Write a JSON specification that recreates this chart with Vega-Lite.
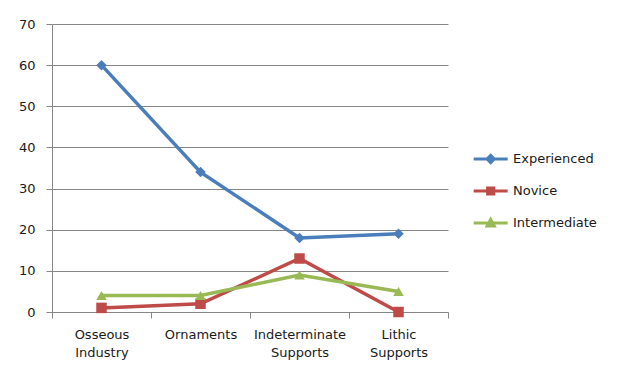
{
  "$schema": "https://vega.github.io/schema/vega-lite/v6.json",
  "width": 396,
  "height": 288,
  "autosize": {"type": "none"},
  "padding": {"left": 52, "top": 24, "right": 172, "bottom": 64},
  "background": "white",
  "config": {"view": {"stroke": null}, "font": "DejaVu Sans"},
  "data": {
    "values": [
      {"category": "Osseous Industry", "series": "Experienced", "value": 60},
      {"category": "Ornaments", "series": "Experienced", "value": 34},
      {"category": "Indeterminate Supports", "series": "Experienced", "value": 18},
      {"category": "Lithic Supports", "series": "Experienced", "value": 19},
      {"category": "Osseous Industry", "series": "Novice", "value": 1},
      {"category": "Ornaments", "series": "Novice", "value": 2},
      {"category": "Indeterminate Supports", "series": "Novice", "value": 13},
      {"category": "Lithic Supports", "series": "Novice", "value": 0},
      {"category": "Osseous Industry", "series": "Intermediate", "value": 4},
      {"category": "Ornaments", "series": "Intermediate", "value": 4},
      {"category": "Indeterminate Supports", "series": "Intermediate", "value": 9},
      {"category": "Lithic Supports", "series": "Intermediate", "value": 5}
    ]
  },
  "encoding": {
    "x": {
      "field": "category",
      "type": "nominal",
      "sort": ["Osseous Industry", "Ornaments", "Indeterminate Supports", "Lithic Supports"],
      "scale": {"type": "band", "paddingInner": 0, "paddingOuter": 0},
      "axis": {
        "title": null,
        "labelAngle": 0,
        "labelExpr": "split(datum.label, ' ')",
        "tickBand": "extent",
        "grid": false,
        "domainColor": "#868686",
        "tickColor": "#868686",
        "tickSize": 6,
        "labelPadding": 10,
        "labelFontSize": 13,
        "labelColor": "#1a1a1a",
        "labelLineHeight": 18
      }
    },
    "y": {
      "field": "value",
      "type": "quantitative",
      "scale": {"domain": [0, 70]},
      "axis": {
        "title": null,
        "values": [0, 10, 20, 30, 40, 50, 60, 70],
        "gridColor": "#868686",
        "gridOpacity": 1,
        "domainColor": "#868686",
        "tickColor": "#868686",
        "tickSize": 6,
        "labelPadding": 11,
        "labelFontSize": 13,
        "labelColor": "#1a1a1a"
      }
    },
    "color": {
      "field": "series",
      "type": "nominal",
      "scale": {
        "domain": ["Experienced", "Novice", "Intermediate"],
        "range": ["#4A7EBB", "#BE4B48", "#98B954"]
      },
      "legend": {
        "title": null,
        "orient": "none",
        "legendX": 420,
        "legendY": 122,
        "symbolSize": 514,
        "labelOffset": 15,
        "labelFontSize": 13,
        "labelColor": "#1a1a1a",
        "rowPadding": 9,
        "encode": {
          "symbols": {
            "update": {
              "shape": {"signal": "datum.value === 'Experienced' ? 'M-1,0H2M0.5,-0.32L0.82,0L0.5,0.32L0.18,0Z' : (datum.value === 'Novice' ? 'M-1,0H2M0.23,-0.27H0.77V0.27H0.23Z' : 'M-1,0H2M0.5,-0.32L0.82,0.27H0.18Z')"},
              "stroke": {"scale": "color", "field": "value"},
              "fill": {"scale": "color", "field": "value"},
              "strokeWidth": {"value": 3},
              "opacity": {"value": 1}
            }
          }
        }
      }
    }
  },
  "layer": [
    {"mark": {"type": "line", "strokeWidth": 3.5}},
    {
      "mark": {"type": "point", "filled": true, "opacity": 1, "size": 110},
      "encoding": {
        "shape": {
          "condition": [
            {"test": "datum.series === 'Experienced'", "value": "diamond"},
            {"test": "datum.series === 'Novice'", "value": "square"}
          ],
          "value": "triangle-up"
        }
      }
    }
  ]
}
